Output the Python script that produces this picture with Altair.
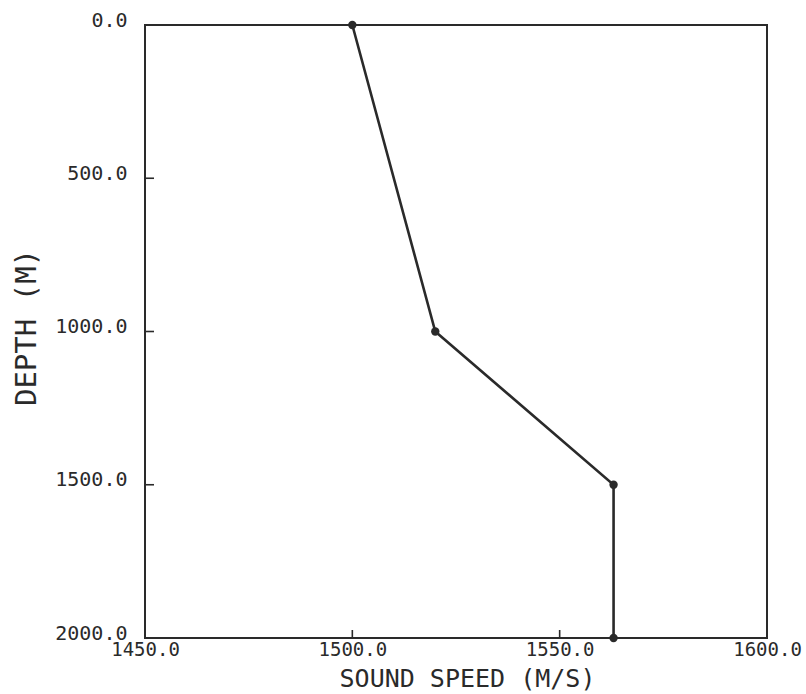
import altair as alt
import pandas as pd

# Sound speed profile values
speed = [1500.0, 1520.0, 1563.0, 1563.0]
depth = [0.0, 1000.0, 1500.0, 2000.0]

x_tick_values = [1450.0, 1500.0, 1550.0, 1600.0]
y_tick_values = [0.0, 500.0, 1000.0, 1500.0, 2000.0]
x_inner_ticks = [1500.0, 1550.0]
y_inner_ticks = [500.0, 1000.0, 1500.0]

x_title = "SOUND SPEED (M/S)"
y_title = "DEPTH (M)"

FONT = "DejaVu Sans Mono"
INK = "#2a2a2a"

profile = pd.DataFrame({"speed": speed, "depth": depth})
xt = pd.DataFrame({"speed": x_inner_ticks})
yt = pd.DataFrame({"depth": y_inner_ticks})

xscale = alt.Scale(domain=[1450, 1600], nice=False, zero=False)
yscale = alt.Scale(domain=[0, 2000], reverse=True, nice=False, zero=False)

x_axis = alt.Axis(
    values=x_tick_values, format=".1f", title=x_title, grid=False,
    ticks=False, domain=False, labelFlush=False, labelOverlap=False, labelBound=False,
    labelPadding=2, labelFont=FONT, labelFontSize=19, labelColor=INK,
    titleFont=FONT, titleFontSize=25, titleFontWeight="normal", titleColor=INK,
    titleBaseline="alphabetic", titleY=48, titleX=322,
)
y_axis = alt.Axis(
    values=y_tick_values, format=".1f", title=y_title, grid=False,
    ticks=False, domain=False, labelFlush=False, labelOverlap=False, labelBound=False,
    labelPadding=18, labelBaseline="alphabetic", labelOffset=1,
    labelFont=FONT, labelFontSize=20, labelColor=INK,
    titleFont=FONT, titleFontSize=29, titleFontWeight="normal", titleColor=INK,
    titleAngle=-90, titleBaseline="alphabetic", titleAlign="center",
    titleX=-110, titleY=302,
)

X = alt.X("speed:Q", scale=xscale, axis=x_axis, title=x_title)
Y = alt.Y("depth:Q", scale=yscale, axis=y_axis, title=y_title)

line = alt.Chart(profile).mark_line(color=INK, strokeWidth=2.6).encode(
    x=X, y=Y, order=alt.Order("depth:Q"),
)
pts = alt.Chart(profile).mark_circle(color=INK, size=70, opacity=1).encode(
    x=X, y=Y,
)
yticks = alt.Chart(yt).mark_rule(color=INK, strokeWidth=1.6).encode(
    y=Y, x=alt.value(0), x2=alt.value(9),
)
xticks = alt.Chart(xt).mark_rule(color=INK, strokeWidth=1.6).encode(
    x=X, y=alt.value(613), y2=alt.value(605),
)

chart = (
    alt.layer(line, pts, yticks, xticks)
    .properties(
        width=622, height=613,
        autosize=alt.AutoSizeParams(type="none"),
        padding={"left": 145, "top": 25, "right": 39, "bottom": 56},
        background="white",
    )
    .configure_view(stroke=INK, strokeWidth=2)
)

chart.save("out.html", embed_options={"renderer": "svg", "actions": False})
